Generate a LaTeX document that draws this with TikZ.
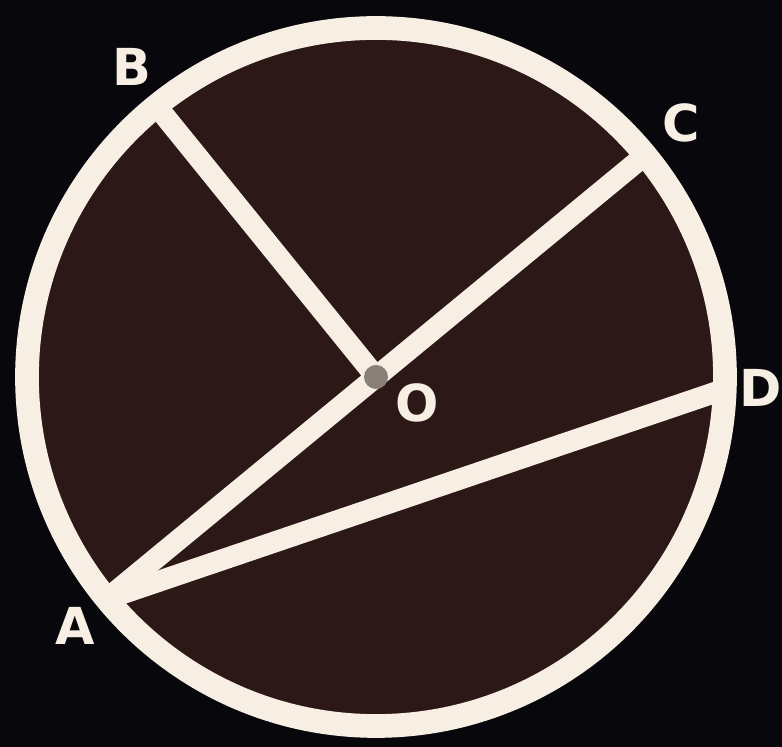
\documentclass[tikz,border=0pt]{standalone}
\usepackage{fontspec}
\setmainfont{DejaVu Sans}
\usetikzlibrary{positioning,calc}
\definecolor{bgblack}{HTML}{08080C}
\definecolor{diskbrown}{HTML}{2C1917}
\definecolor{chalk}{HTML}{F8EFE4}
\definecolor{dotgrey}{HTML}{8A807A}
\tikzset{
  chord/.style={chalk, line width=12pt},
  rim/.style={chalk, line width=13.5pt},
  ptlabel/.style={text=chalk, font=\bfseries\fontsize{29}{29}\selectfont, inner sep=0pt}
}

\begin{document}
\begin{tikzpicture}[x=0.02cm,y=0.02cm]
% Background
\fill[bgblack] (0,0) rectangle (782,747);
\useasboundingbox (0,0) rectangle (782,747);

% Disc
\coordinate (O) at (376,370);
\fill[diskbrown] (O) circle (349);

% Points on the rim
\coordinate (A) at ($(O)+(219.5:349)$);
\coordinate (B) at ($(O)+(129:349)$);
\coordinate (C) at ($(O)+(39.5:349)$);
\coordinate (D) at ($(O)+(-2:349)$);

% Chords
\draw[chord] (A) -- (C);
\draw[chord] (O) -- (B);
\draw[chord] (A) -- (D);

% Rim
\draw[rim] (O) circle (349);

% Centre dot
\fill[dotgrey] (O) circle (12);

% Labels
\node[ptlabel] (labA) at (75,121) {A};
\node[ptlabel] (labB) at (132,680) {B};
\node[ptlabel] (labC) at (681,624) {C};
\node[ptlabel] (labD) at (761,359) {D};
\node[ptlabel] (labO) at (417,344) {O};
\end{tikzpicture}
\end{document}
